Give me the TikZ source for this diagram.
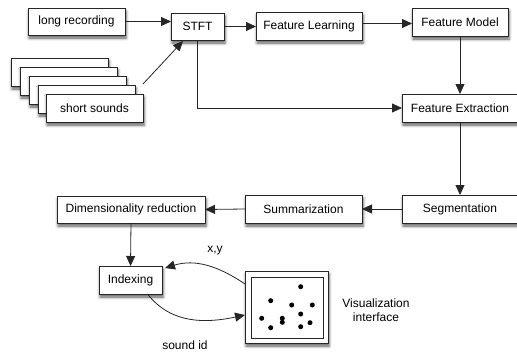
\documentclass[tikz,border=0pt]{standalone}
\usepackage{fontspec}
\setmainfont{Liberation Sans}
\usetikzlibrary{arrows.meta,shadows.blur}
\begin{document}
\begin{tikzpicture}[x=1pt,y=-1pt,
  box/.style={draw=black!85, line width=0.8pt, fill=white, minimum width=#1,
    minimum height=28pt, inner sep=0pt, outer sep=0pt,
    font=\fontsize{12}{14}\selectfont,
    blur shadow={shadow xshift=1pt, shadow yshift=-3pt, shadow blur radius=3pt, shadow opacity=65}},
  arr/.style={draw=black!85, line width=0.8pt, -{Triangle[length=10pt,width=9pt]}},
  lbl/.style={font=\fontsize{12}{14}\selectfont, inner sep=0pt},
  dot/.style={fill=black, draw=none}]
\useasboundingbox (0,0) rectangle (517,356);

% top row
\node[box=97pt, minimum height=27pt] (lr) at (76.5,21.5) {long recording};
\node[box=53pt, minimum height=27pt] (stft) at (197.5,26.5) {STFT};
\node[box=106pt] (fl) at (309,26) {Feature Learning};
\node[box=96pt] (fm) at (460,22) {Feature Model};
\node[box=116pt] (fe) at (460,108) {Feature Extraction};

% short sounds stack
\node[box=97pt] (ss5) at (59.5,72) {};
\node[box=97pt] (ss4) at (68.5,81) {};
\node[box=97pt] (ss3) at (77.5,90) {};
\node[box=97pt] (ss2) at (86.5,99) {};
\node[box=97pt] (ss1) at (94.5,108) {short sounds};

% middle row
\node[box=116pt] (seg) at (460,209) {Segmentation};
\node[box=117pt] (sum) at (303.5,209) {Summarization};
\node[box=148pt, minimum height=27pt] (dr) at (131,209.5) {Dimensionality reduction};
\node[box=63pt] (idx) at (130.5,280) {Indexing};

% visualization interface
\node[box=83pt, minimum height=72pt, line width=1pt] (vis) at (286.5,307) {};
\node[draw=black!85, line width=0.8pt, minimum width=72pt, minimum height=61pt, inner sep=0pt] (visin) at (287,307.5) {};
\foreach \p in {(300.7,286.7),(270.7,300.7),(291.7,305),(312.3,305),(300.7,314),(261.7,318.3),(282.3,318.3),(282.3,322.3),(270.7,327.7),(300.7,326.7),(310,322.7)}
  \fill[dot] \p circle (2.5pt);
\node[lbl, align=center] (vislbl) at (376,310) {Visualization\\interface};

% connectors
\draw[arr] (lr.east) -- (lr.east -| stft.west);
\draw[arr] ([yshift=10pt]ss1.north east) -- ([xshift=12pt,yshift=-1pt]stft.south west);
\draw[arr] (stft.east) -- (stft.east -| fl.west);
\draw[arr] ([yshift=-1.5pt]fm.west -| fl.east) -- ([yshift=-1.5pt]fm.west);
\draw[arr] (stft.south) |- (fe.west);
\draw[arr] (fm.south) -- (fe.north);
\draw[arr] (fe.south) -- (seg.north);
\draw[arr] (seg.west) -- (sum.east);
\draw[arr] (sum.west) -- (dr.east);
\draw[arr] (dr.south) -- (idx.north);

\coordinate (xyS) at ([yshift=-13pt]vis.north west);
\coordinate (xyE) at ([xshift=3pt,yshift=-2pt]idx.north east);
\draw[arr] (xyS) to[out=146,in=17] (xyE);
\coordinate (sidS) at ([xshift=17pt]idx.south);
\coordinate (sidE) at ([yshift=-8pt]vis.west);
\draw[arr] (sidS) to[out=-52,in=192] (sidE);

\node[lbl] (xylbl) at (215,251) {x,y};
\node[lbl] (sidlbl) at (185,345) {sound id};
\end{tikzpicture}
\end{document}
